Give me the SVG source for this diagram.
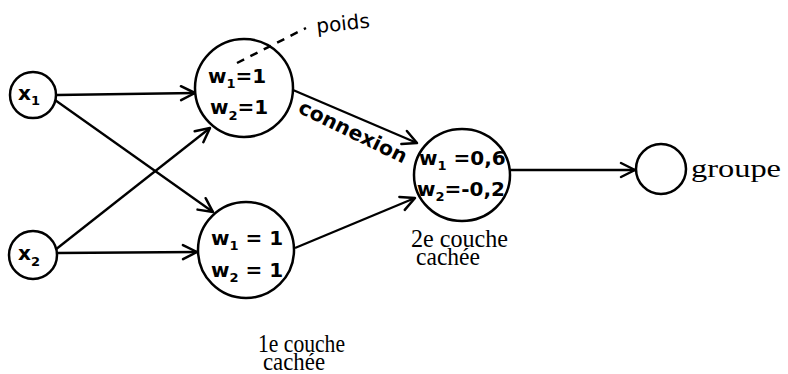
<svg xmlns="http://www.w3.org/2000/svg" width="788" height="374" viewBox="0 0 788 374">
<defs>
<marker id="arr" markerUnits="userSpaceOnUse" markerWidth="20" markerHeight="20" refX="0" refY="0" viewBox="-16 -10 20 20" orient="auto">
<path d="M -14 -7 L 0 0 L -14 7" fill="none" stroke="#000" stroke-width="2.5" stroke-linecap="round" stroke-linejoin="round"/>
</marker>
</defs>
<style>
.node{fill:#fff;stroke:#000;stroke-width:2.5}
.edge{fill:none;stroke:#000;stroke-width:2.3;marker-end:url(#arr)}
.hand{font-family:"DejaVu Sans","Liberation Sans",sans-serif;font-size:20px;font-weight:bold;fill:#000}
.thin{font-weight:normal}
.sub{font-size:13px}
.serif{font-family:"Liberation Serif","DejaVu Serif",serif;font-size:25px;fill:#000}
</style>
<rect width="788" height="374" fill="#fff"/>
<g id="connectors">
<line class="edge" x1="57" y1="95" x2="195" y2="93"/>
<line class="edge" x1="55" y1="100" x2="213" y2="212"/>
<line class="edge" x1="55" y1="250" x2="210" y2="128"/>
<line class="edge" x1="57" y1="253" x2="197" y2="252"/>
<line class="edge" x1="293" y1="90" x2="417" y2="143"/>
<line class="edge" x1="295" y1="248" x2="415" y2="198"/>
<line class="edge" x1="510" y1="170" x2="635" y2="170"/>
</g>
<g id="x1">
<circle class="node" cx="33" cy="95" r="23"/>
<text class="hand" x="18" y="100" font-size="22">x<tspan class="sub" dy="5">1</tspan></text>
</g>
<g id="x2">
<circle class="node" cx="33" cy="255" r="24"/>
<text class="hand" x="18" y="260" font-size="22">x<tspan class="sub" dy="6">2</tspan></text>
</g>
<g id="h1">
<circle class="node" cx="244" cy="88" r="49"/>
<text class="hand" x="208" y="83">w<tspan class="sub" dy="5">1</tspan><tspan dy="-5">=1</tspan></text>
<text class="hand" x="210" y="114">w<tspan class="sub" dy="6">2</tspan><tspan dy="-6">=1</tspan></text>
</g>
<g id="poids">
<line x1="237" y1="63" x2="306" y2="28" stroke="#000" stroke-width="2.5" stroke-dasharray="8 7"/>
<text class="hand thin" x="317" y="33" transform="rotate(-6 317 33)" font-size="21">poids</text>
</g>
<g id="h2">
<circle class="node" cx="246" cy="250" r="48"/>
<text class="hand" x="211" y="245">w<tspan class="sub" dy="5">1</tspan><tspan dy="-5"> = 1</tspan></text>
<text class="hand" x="211" y="277">w<tspan class="sub" dy="5">2</tspan><tspan dy="-5"> = 1</tspan></text>
</g>
<g id="connexion">
<text class="hand" x="297" y="112" transform="rotate(26 297 112)" textLength="118" lengthAdjust="spacingAndGlyphs">connexion</text>
</g>
<g id="h3">
<ellipse class="node" cx="462" cy="175" rx="48" ry="46"/>
<text class="hand" x="419" y="165" font-size="17">w<tspan class="sub" dy="5">1</tspan><tspan dy="-5"> =0,6</tspan></text>
<text class="hand" x="417" y="196" font-size="17">w<tspan class="sub" dy="5">2</tspan><tspan dy="-5">=-0,2</tspan></text>
</g>
<g id="out">
<circle class="node" cx="661" cy="169" r="25"/>
</g>
<text class="serif" x="691" y="177" font-size="28" textLength="90" lengthAdjust="spacingAndGlyphs">groupe</text>
<text class="serif" x="411" y="247" textLength="97" lengthAdjust="spacingAndGlyphs">2e couche</text>
<text class="serif" x="416" y="265" font-size="24" textLength="64" lengthAdjust="spacingAndGlyphs">cachée</text>
<text class="serif" x="258" y="352" textLength="87" lengthAdjust="spacingAndGlyphs">1e couche</text>
<text class="serif" x="263" y="370" font-size="24" textLength="62" lengthAdjust="spacingAndGlyphs">cachée</text>
</svg>
